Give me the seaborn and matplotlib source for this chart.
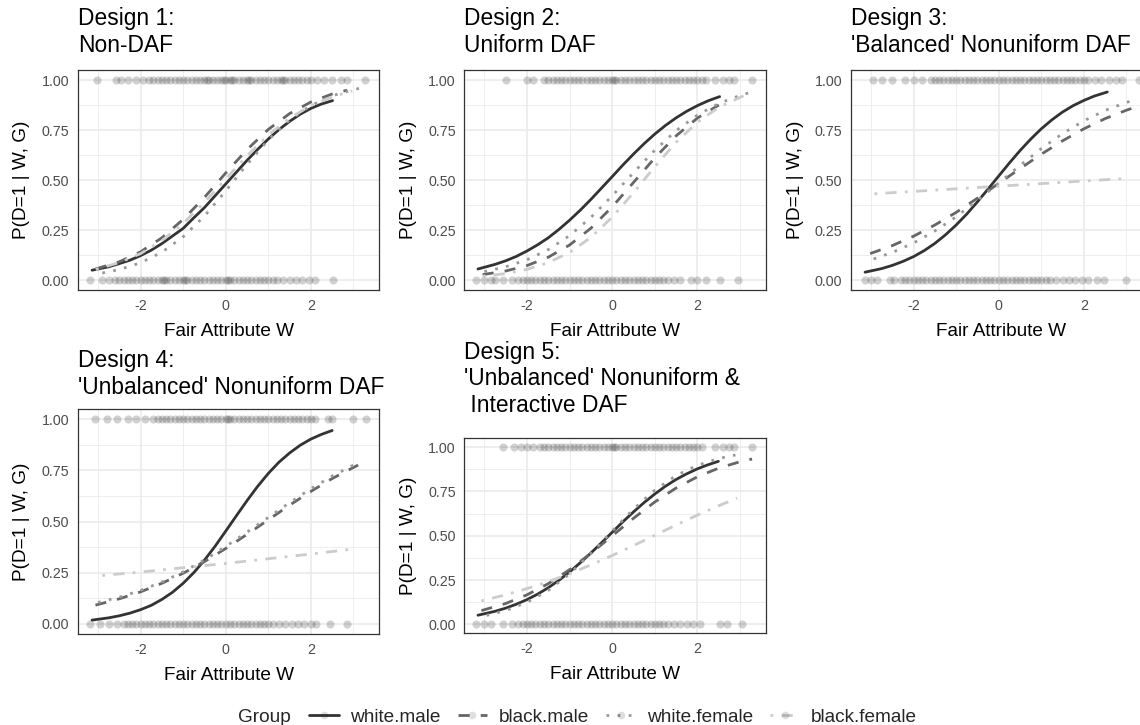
import pandas as pd
import seaborn as sns
import matplotlib.pyplot as plt
from matplotlib.lines import Line2D

sns.set_style('white')
plt.rcParams['font.family'] = ['Liberation Sans', 'DejaVu Sans']
plt.rcParams['axes.unicode_minus'] = False

groups = ['white.male', 'black.male', 'white.female', 'black.female']
pal = {'white.male': '#333333', 'black.male': '#666666',
       'white.female': '#999999', 'black.female': '#cccccc'}
dash_map = {'white.male': '', 'black.male': (4, 4),
            'white.female': (1, 3), 'black.female': (1, 3, 4, 3)}

titles = ['Design 1:\nNon-DAF',
          'Design 2:\nUniform DAF',
          "Design 3:\n'Balanced' Nonuniform DAF",
          "Design 4:\n'Unbalanced' Nonuniform DAF",
          "Design 5:\n'Unbalanced' Nonuniform &\n Interactive DAF"]

x_ticks = [-2, 0, 2]
x_tick_labels = ['-2', '0', '2']
y_ticks = [0.0, 0.25, 0.5, 0.75, 1.0]
y_tick_labels = ['0.00', '0.25', '0.50', '0.75', '1.00']

# fitted curves (W, P) per design / group
w1_wm = [-3.14, -3.0, -2.75, -2.5, -2.25, -2.0, -1.75, -1.5, -1.25, -1.0, -0.75, -0.5, -0.25,
         0.0, 0.25, 0.5, 0.75, 1.0, 1.25, 1.5, 1.75, 2.0, 2.25, 2.51]
p1_wm = [0.049, 0.055, 0.066, 0.082, 0.099, 0.122, 0.149, 0.182, 0.220, 0.258, 0.311, 0.362,
         0.421, 0.480, 0.539, 0.598, 0.653, 0.705, 0.752, 0.793, 0.829, 0.858, 0.880, 0.897]
w1_bm = [-3.06, -2.5, -2.0, -1.5, -1.0, -0.5, 0.0, 0.5, 1.0, 1.5, 2.0, 2.5, 2.85]
p1_bm = [0.055, 0.091, 0.141, 0.211, 0.303, 0.413, 0.535, 0.652, 0.753, 0.832, 0.890, 0.930, 0.949]
w1_wf = [-2.9, -2.5, -2.0, -1.5, -1.0, -0.5, 0.0, 0.5, 1.0, 1.5, 2.0, 2.5, 3.0, 3.28]
p1_wf = [0.035, 0.052, 0.086, 0.139, 0.216, 0.320, 0.445, 0.578, 0.701, 0.800, 0.872, 0.921, 0.952, 0.964]
w1_bf = [-3.05, -2.5, -2.0, -1.5, -1.0, -0.5, 0.0, 0.5, 1.0, 1.5, 2.0, 2.5, 2.97]
p1_bf = [0.053, 0.087, 0.132, 0.197, 0.283, 0.388, 0.505, 0.621, 0.725, 0.809, 0.872, 0.916, 0.945]

w2_wm = [-3.15, -2.75, -2.5, -2.25, -2.0, -1.75, -1.5, -1.25, -1.0, -0.75, -0.5, -0.25, 0.0,
         0.25, 0.5, 0.75, 1.0, 1.25, 1.5, 1.75, 2.0, 2.25, 2.52]
p2_wm = [0.055, 0.078, 0.096, 0.118, 0.145, 0.176, 0.211, 0.253, 0.299, 0.349, 0.403, 0.460,
         0.517, 0.575, 0.630, 0.682, 0.730, 0.773, 0.811, 0.844, 0.872, 0.896, 0.917]
w2_bm = [-3.04, -2.5, -2.0, -1.5, -1.0, -0.5, 0.0, 0.5, 1.0, 1.5, 2.0, 2.5]
p2_bm = [0.027, 0.045, 0.072, 0.114, 0.175, 0.259, 0.366, 0.488, 0.611, 0.721, 0.810, 0.875]
w2_wf = [-3.0, -2.5, -2.0, -1.5, -1.0, -0.5, 0.0, 0.5, 1.0, 1.5, 2.0, 2.5, 3.0, 3.24]
p2_wf = [0.042, 0.066, 0.101, 0.152, 0.222, 0.313, 0.421, 0.537, 0.649, 0.747, 0.825, 0.883, 0.923, 0.938]
w2_bf = [-3.04, -2.5, -2.0, -1.5, -1.0, -0.5, 0.0, 0.5, 1.0, 1.5, 2.0, 2.5, 3.08]
p2_bf = [0.019, 0.032, 0.053, 0.087, 0.138, 0.213, 0.314, 0.437, 0.567, 0.689, 0.789, 0.864, 0.921]

w3_wm = [-3.14, -2.75, -2.5, -2.25, -2.0, -1.75, -1.5, -1.25, -1.0, -0.75, -0.5, -0.25, 0.0,
         0.25, 0.5, 0.75, 1.0, 1.25, 1.5, 1.75, 2.0, 2.25, 2.55]
p3_wm = [0.039, 0.057, 0.073, 0.093, 0.117, 0.147, 0.183, 0.226, 0.275, 0.330, 0.391, 0.455,
         0.520, 0.585, 0.647, 0.704, 0.756, 0.801, 0.840, 0.872, 0.898, 0.920, 0.940]
w3_bm = [-3.02, -2.5, -2.0, -1.5, -1.0, -0.5, 0.0, 0.5, 1.0, 1.5, 2.0, 2.5, 3.0, 3.26]
p3_bm = [0.132, 0.172, 0.219, 0.275, 0.338, 0.409, 0.483, 0.557, 0.629, 0.696, 0.756, 0.807, 0.849, 0.868]
w3_wf = [-2.94, -2.5, -2.0, -1.5, -1.0, -0.5, 0.0, 0.5, 1.0, 1.5, 2.0, 2.5, 3.0, 3.2]
p3_wf = [0.105, 0.138, 0.185, 0.245, 0.316, 0.398, 0.485, 0.573, 0.657, 0.732, 0.796, 0.848, 0.888, 0.901]
w3_bf = [-2.92, -2.0, -1.0, 0.0, 1.0, 2.0, 2.94]
p3_bf = [0.431, 0.443, 0.456, 0.469, 0.482, 0.495, 0.507]

w4_wm = [-3.14, -2.75, -2.5, -2.25, -2.0, -1.75, -1.5, -1.25, -1.0, -0.75, -0.5, -0.25, 0.0,
         0.25, 0.5, 0.75, 1.0, 1.25, 1.5, 1.75, 2.0, 2.25, 2.5]
p4_wm = [0.018, 0.029, 0.039, 0.052, 0.069, 0.090, 0.119, 0.154, 0.198, 0.250, 0.311, 0.379,
         0.453, 0.528, 0.602, 0.672, 0.735, 0.790, 0.835, 0.873, 0.903, 0.926, 0.945]
w4_bm = [-3.06, -2.5, -2.0, -1.5, -1.0, -0.5, 0.0, 0.5, 1.0, 1.5, 2.0, 2.5, 3.11]
p4_bm = [0.091, 0.122, 0.156, 0.198, 0.247, 0.304, 0.368, 0.437, 0.508, 0.580, 0.647, 0.710, 0.776]
w4_wf = [-3.0, -2.5, -2.0, -1.5, -1.0, -0.5, 0.0, 0.5, 1.0, 1.5, 2.0, 2.5, 3.0]
p4_wf = [0.104, 0.130, 0.163, 0.204, 0.254, 0.312, 0.378, 0.448, 0.520, 0.592, 0.660, 0.722, 0.776]
w4_bf = [-2.9, -2.0, -1.0, 0.0, 1.0, 2.0, 2.93]
p4_bf = [0.236, 0.253, 0.274, 0.295, 0.318, 0.341, 0.364]

w5_wm = [-3.15, -2.75, -2.5, -2.25, -2.0, -1.75, -1.5, -1.25, -1.0, -0.75, -0.5, -0.25, 0.0,
         0.25, 0.5, 0.75, 1.0, 1.25, 1.5, 1.75, 2.0, 2.25, 2.49]
p5_wm = [0.052, 0.074, 0.092, 0.114, 0.140, 0.171, 0.207, 0.249, 0.296, 0.348, 0.403, 0.461,
         0.520, 0.579, 0.635, 0.688, 0.736, 0.780, 0.818, 0.850, 0.878, 0.901, 0.920]
w5_bm = [-3.07, -2.5, -2.0, -1.5, -1.0, -0.5, 0.0, 0.5, 1.0, 1.5, 2.0, 2.5, 3.0, 3.28]
p5_bm = [0.078, 0.118, 0.167, 0.230, 0.309, 0.401, 0.500, 0.599, 0.691, 0.770, 0.833, 0.882, 0.918, 0.933]
w5_wf = [-2.95, -2.5, -2.0, -1.5, -1.0, -0.5, 0.0, 0.5, 1.0, 1.5, 2.0, 2.5, 2.89]
p5_wf = [0.051, 0.078, 0.125, 0.192, 0.285, 0.400, 0.527, 0.651, 0.758, 0.840, 0.898, 0.936, 0.956]
w5_bf = [-3.07, -2.5, -2.0, -1.5, -1.0, -0.5, 0.0, 0.5, 1.0, 1.5, 2.0, 2.5, 2.93]
p5_bf = [0.133, 0.167, 0.202, 0.241, 0.286, 0.336, 0.389, 0.445, 0.503, 0.561, 0.617, 0.670, 0.712]

# observed W values for D=1 (top) and D=0 (bottom), per design
top1 = [-3.03, -2.58, -2.45, -2.3, -2.1, -1.95, -1.8, -1.7, -1.6, -1.5, -1.4, -1.3, -1.2, -1.1,
        -1.0, -0.9, -0.8, -0.7, -0.6, -0.5, -0.45, -0.4, -0.3, -0.2, -0.1, -0.05, 0.0, 0.1, 0.15,
        0.2, 0.3, 0.4, 0.5, 0.55, 0.6, 0.7, 0.8, 0.9, 1.0, 1.1, 1.2, 1.3, 1.35, 1.4, 1.5, 1.6,
        1.7, 1.8, 1.9, 2.0, 2.15, 2.3, 2.5, 2.7, 2.85, 3.26]
bot1 = [-3.18, -2.9, -2.75, -2.6, -2.5, -2.4, -2.3, -2.2, -2.1, -2.0, -1.9, -1.8, -1.7, -1.6,
        -1.5, -1.45, -1.4, -1.3, -1.2, -1.1, -1.0, -0.95, -0.9, -0.8, -0.7, -0.6, -0.5, -0.4,
        -0.3, -0.2, -0.1, 0.0, 0.05, 0.1, 0.2, 0.3, 0.4, 0.5, 0.6, 0.7, 0.8, 0.9, 1.0, 1.1, 1.2,
        1.35, 1.5, 1.65, 1.8, 1.95, 2.1, 2.52]
top2 = [-2.5, -2.0, -1.85, -1.6, -1.5, -1.4, -1.3, -1.2, -1.1, -1.0, -0.9, -0.8, -0.7, -0.6,
        -0.5, -0.4, -0.3, -0.2, -0.1, 0.0, 0.05, 0.1, 0.2, 0.3, 0.4, 0.5, 0.6, 0.7, 0.8, 0.9,
        1.0, 1.1, 1.2, 1.3, 1.4, 1.5, 1.6, 1.7, 1.8, 1.9, 2.0, 2.1, 2.2, 2.4, 2.6, 2.75, 2.85, 3.27]
bot2 = [-3.2, -3.0, -2.85, -2.76, -2.56, -2.35, -2.2, -2.1, -2.0, -1.9, -1.8, -1.7, -1.6, -1.5,
        -1.4, -1.3, -1.2, -1.1, -1.0, -0.9, -0.8, -0.7, -0.6, -0.5, -0.4, -0.3, -0.2, -0.1, 0.0,
        0.1, 0.2, 0.3, 0.4, 0.5, 0.6, 0.7, 0.8, 0.9, 1.0, 1.1, 1.2, 1.3, 1.45, 1.6, 1.85, 2.0,
        2.2, 2.53, 2.96]
top3 = [-2.95, -2.75, -2.5, -2.2, -2.0, -1.8, -1.6, -1.5, -1.4, -1.3, -1.2, -1.1, -1.0, -0.9,
        -0.8, -0.7, -0.6, -0.5, -0.4, -0.3, -0.2, -0.1, 0.0, 0.1, 0.2, 0.3, 0.4, 0.5, 0.6, 0.7,
        0.8, 0.9, 1.0, 1.1, 1.2, 1.3, 1.4, 1.5, 1.6, 1.7, 1.8, 1.9, 2.0, 2.1, 2.25, 2.4, 2.6,
        2.75, 2.9, 3.3]
bot3 = [-3.14, -3.0, -2.85, -2.55, -2.45, -2.3, -2.2, -2.1, -2.0, -1.9, -1.8, -1.7, -1.6, -1.5,
        -1.4, -1.3, -1.2, -1.1, -1.0, -0.9, -0.8, -0.7, -0.6, -0.5, -0.4, -0.3, -0.2, -0.1, 0.0,
        0.1, 0.2, 0.3, 0.4, 0.5, 0.6, 0.7, 0.8, 0.9, 1.0, 1.1, 1.2, 1.35, 1.5, 1.65, 1.8, 1.95,
        2.1, 2.3, 2.47, 3.0]
top4 = [-3.06, -2.8, -2.55, -2.3, -2.1, -1.9, -1.7, -1.6, -1.5, -1.4, -1.3, -1.2, -1.1, -1.0,
        -0.9, -0.8, -0.7, -0.6, -0.5, -0.4, -0.3, -0.2, -0.1, 0.0, 0.05, 0.1, 0.2, 0.3, 0.4, 0.5,
        0.6, 0.7, 0.8, 0.9, 1.0, 1.1, 1.2, 1.3, 1.4, 1.5, 1.6, 1.7, 1.8, 1.9, 2.0, 2.1, 2.4, 2.5,
        3.0, 3.3]
bot4 = [-3.18, -2.95, -2.75, -2.55, -2.4, -2.3, -2.2, -2.1, -2.0, -1.9, -1.8, -1.7, -1.6, -1.5,
        -1.4, -1.3, -1.2, -1.1, -1.0, -0.9, -0.8, -0.7, -0.6, -0.5, -0.4, -0.3, -0.2, -0.1, 0.0,
        0.1, 0.2, 0.3, 0.4, 0.5, 0.6, 0.7, 0.8, 0.9, 1.0, 1.1, 1.25, 1.4, 1.55, 1.7, 1.85, 2.0,
        2.13, 2.45, 2.84]
top5 = [-2.56, -2.3, -2.15, -2.0, -1.85, -1.7, -1.6, -1.5, -1.4, -1.3, -1.2, -1.1, -1.0, -0.9,
        -0.8, -0.7, -0.6, -0.5, -0.4, -0.3, -0.2, -0.1, 0.0, 0.05, 0.1, 0.2, 0.3, 0.4, 0.5, 0.6,
        0.7, 0.8, 0.9, 1.0, 1.1, 1.2, 1.3, 1.4, 1.5, 1.6, 1.7, 1.8, 1.9, 2.0, 2.1, 2.42, 2.6,
        2.75, 2.85, 3.28]
bot5 = [-3.2, -3.0, -2.85, -2.56, -2.35, -2.2, -2.1, -2.0, -1.9, -1.8, -1.7, -1.6, -1.5, -1.4,
        -1.3, -1.2, -1.1, -1.0, -0.9, -0.8, -0.7, -0.6, -0.5, -0.4, -0.3, -0.2, -0.1, 0.0, 0.1,
        0.2, 0.3, 0.4, 0.5, 0.6, 0.7, 0.8, 0.9, 1.0, 1.1, 1.2, 1.3, 1.45, 1.6, 1.75, 1.9, 2.06,
        2.53, 2.7, 3.04]

curve_sets = [
    [w1_wm, p1_wm, w1_bm, p1_bm, w1_wf, p1_wf, w1_bf, p1_bf],
    [w2_wm, p2_wm, w2_bm, p2_bm, w2_wf, p2_wf, w2_bf, p2_bf],
    [w3_wm, p3_wm, w3_bm, p3_bm, w3_wf, p3_wf, w3_bf, p3_bf],
    [w4_wm, p4_wm, w4_bm, p4_bm, w4_wf, p4_wf, w4_bf, p4_bf],
    [w5_wm, p5_wm, w5_bm, p5_bm, w5_wf, p5_wf, w5_bf, p5_bf],
]
point_sets = [(top1, bot1), (top2, bot2), (top3, bot3), (top4, bot4), (top5, bot5)]

rows = []
for d, cs in enumerate(curve_sets, start=1):
    for k, g in enumerate(groups):
        for w, p in zip(cs[2 * k], cs[2 * k + 1]):
            rows.append({'design': d, 'group': g, 'W': w, 'P': p})
curves = pd.DataFrame(rows)

prow = []
for d, (top, bot) in enumerate(point_sets, start=1):
    prow += [{'design': d, 'W': w, 'D': 1} for w in top]
    prow += [{'design': d, 'W': w, 'D': 0} for w in bot]
points = pd.DataFrame(prow)

W, H = 1140, 725
fig = plt.figure(figsize=(W / 100, H / 100), dpi=100)

# panel boxes in pixels: left, top, width, height
boxes = [(78, 70, 301, 220), (464.3, 70, 301.4, 220), (851, 70, 301, 220),
         (78, 409, 301, 225), (464.3, 438.3, 301.4, 195)]
# baseline of the last title line, pixels from top
title_base = [52, 52, 52, 394, 412]

for i, (l, t, w, h) in enumerate(boxes):
    d = i + 1
    ax = fig.add_axes([l / W, 1 - (t + h) / H, w / W, h / H])
    ax.set_facecolor('white')
    sns.scatterplot(data=points[points.design == d], x='W', y='D', color='#1a1a1a',
                    alpha=0.2, s=34, linewidth=0, ax=ax, zorder=2)
    sns.lineplot(data=curves[curves.design == d], x='W', y='P', hue='group', style='group',
                 hue_order=groups, style_order=groups, palette=pal, dashes=dash_map,
                 estimator=None, sort=True, linewidth=2.0, legend=False, ax=ax, zorder=3)

    ax.set_xlim(-3.47, 3.6)
    ax.set_ylim(-0.05, 1.05)
    ax.set_xticks(x_ticks)
    ax.set_xticklabels(x_tick_labels)
    ax.set_yticks(y_ticks)
    ax.set_yticklabels(y_tick_labels)
    ax.set_xticks([-3, -1, 1, 3], minor=True)
    ax.set_yticks([0.125, 0.375, 0.625, 0.875], minor=True)
    ax.grid(which='major', color='#ebebeb', linewidth=1.2, zorder=0)
    ax.grid(which='minor', color='#ebebeb', linewidth=0.6, zorder=0)
    ax.set_axisbelow(True)
    ax.tick_params(which='major', length=3.4, width=0.8, color='#333333',
                   labelcolor='#4d4d4d', labelsize=10.3, pad=2.8)
    ax.tick_params(which='minor', length=0)
    for sp in ax.spines.values():
        sp.set_visible(True)
        sp.set_color('#333333')
        sp.set_linewidth(0.9)

    ax.set_xlabel('Fair Attribute W', fontsize=13.7, color='black')
    ax.set_ylabel('P(D=1 | W, G)', fontsize=13.7, color='black')
    ax.xaxis.set_label_coords(0.5, -32.5 / h)
    ax.yaxis.set_label_coords(-47.5 / w, 0.5)

    fig.text(l / W, 1 - title_base[i] / H, titles[i], fontsize=16.4, color='black',
             ha='left', va='baseline')

# legend
handles = []
for g in groups:
    ln = Line2D([], [], color=pal[g], linewidth=2.0,
                linestyle='-' if dash_map[g] == '' else (0, dash_map[g]))
    pt = Line2D([], [], marker='o', linestyle='', color='#1a1a1a', alpha=0.14, markersize=5.5,
                markeredgewidth=0)
    handles.append((ln, pt))
fig.text(238 / W, 1 - 717 / H, 'Group', fontsize=13.7, ha='left', va='center')
fig.legend(handles, groups, loc='center left', bbox_to_anchor=(294 / W, 1 - 717 / H),
           ncol=4, frameon=False, fontsize=13.7, handlelength=1.55, handletextpad=0.6,
           columnspacing=0.9, borderpad=0.3)

fig.savefig('out.png', dpi=100)
